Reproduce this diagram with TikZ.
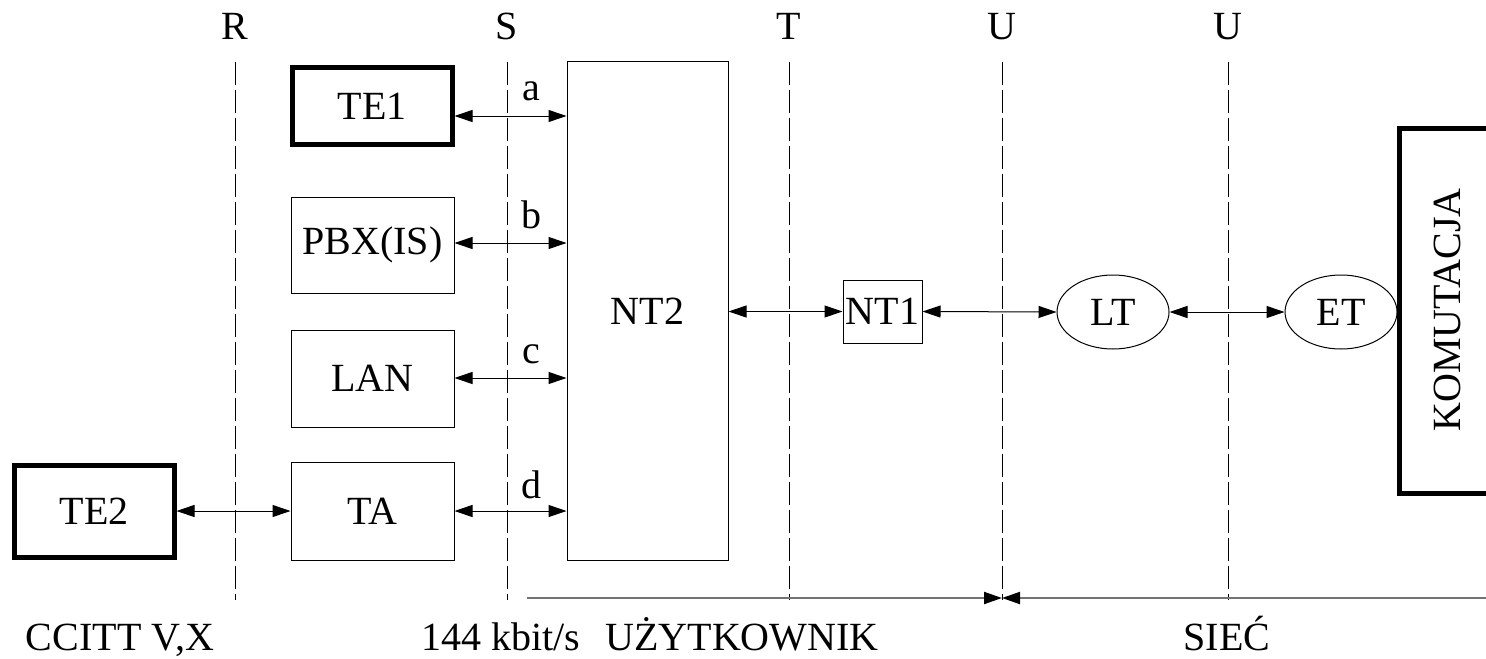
\documentclass[tikz,border=0pt]{standalone}
\usepackage{fontspec}
\setmainfont{Liberation Serif}
\usetikzlibrary{arrows.meta,shapes.geometric}
\begin{document}
\begin{tikzpicture}[x=0.5pt,y=-0.5pt,
  every node/.style={font=\fontsize{20}{24}\selectfont, inner sep=0pt},
  box/.style={draw, line width=0.5pt},
  thickbox/.style={draw, line width=2.5pt},
  oval/.style={draw, ellipse, line width=0.5pt, minimum width=56pt, minimum height=37pt},
  ref/.style={dash pattern=on 11.5pt off 2.5pt, line width=0.5pt},
  link/.style={{Triangle[length=9pt,width=6pt]}-{Triangle[length=9pt,width=6pt]}, line width=0.5pt},
  span/.style={line width=1pt, draw=black!55},
  tip/.style={-{Triangle[length=9pt,width=6pt,color=black]}},
  lbl/.style={anchor=base}
]
\useasboundingbox (0,0) rectangle (1486,658);

% reference points
\foreach \x/\n/\t in {235/R/R,507/S/S,789/T/T,1002/U/U,1228/V/U}{
  \node[lbl] (lab\n) at (\x,40) {\t};
  \coordinate (top\n) at (\x,62);
  \coordinate (bot\n) at (\x,600);
  \draw[ref] (top\n) -- (bot\n);
}

% left boxes
\node[thickbox, minimum width=80pt, minimum height=38pt] (te1) at (372,106) {TE1};
\node[box, minimum width=81.5pt, minimum height=48pt] (pbx) at (372.5,245) {PBX(IS)};
\node[box, minimum width=81.5pt, minimum height=48.5pt] (lan) at (372.5,378.5) {LAN};
\node[box, minimum width=81.5pt, minimum height=49pt] (ta) at (372.5,511) {TA};
\node[thickbox, minimum width=80pt, minimum height=46pt] (te2) at (94,511) {TE2};

% NT2
\node[box, minimum width=80.5pt, minimum height=249pt] (nt2) at (647.5,311) {NT2};

% NT1, LT, ET
\node[box, minimum width=39.5pt, minimum height=31.5pt] (nt1) at (882.5,311.5) {NT1};
\node[oval] (lt) at (1113,312) {LT};
\node[oval] (et) at (1341,312) {ET};

% KOMUTACJA
\draw[line width=2.5pt] (1540,128) -- (1399,128) -- (1399,493) -- (1540,493);
\node[rotate=90] (kom) at (1447,310) {KOMUTACJA};

% connectors
\coordinate (na) at (nt2.west |- 0,116);
\coordinate (nb) at (nt2.west |- 0,243);
\coordinate (nc) at (nt2.west |- 0,378);
\coordinate (nd) at (nt2.west |- 0,511);
\draw[link] (te1.east |- na) -- (na);
\draw[link] (pbx.east |- nb) -- (nb);
\draw[link] (lan.east |- nc) -- (nc);
\draw[link] (ta.east |- nd) -- (nd);
\node[lbl] (la) at (531,100) {a};
\node[lbl] (lb) at (531,228) {b};
\node[lbl] (lc) at (531,363) {c};
\node[lbl] (ld) at (531,498) {d};

\draw[link] (te2.east) -- (ta.west);
\draw[link] (nt2.east |- nt1.west) -- (nt1.west);
\draw[link] (nt1.east) -- (lt.west);
\draw[link] (lt.east) -- (et.west);

% bottom span arrows
\coordinate (s0) at (527,598);
\coordinate (smid) at (1002,598);
\coordinate (s1) at (1490,598);
\draw[span, tip] (s0) -- (smid);
\draw[span, tip] (s1) -- (smid);

% bottom labels
\node[lbl] (ccitt) at (120,650) {CCITT V,X};
\node[lbl] (rate) at (501,650) {144 kbit/s};
\node[lbl] (user) at (742,650) {UŻYTKOWNIK};
\node[lbl] (net) at (1227,650) {SIEĆ};
\end{tikzpicture}
\end{document}
